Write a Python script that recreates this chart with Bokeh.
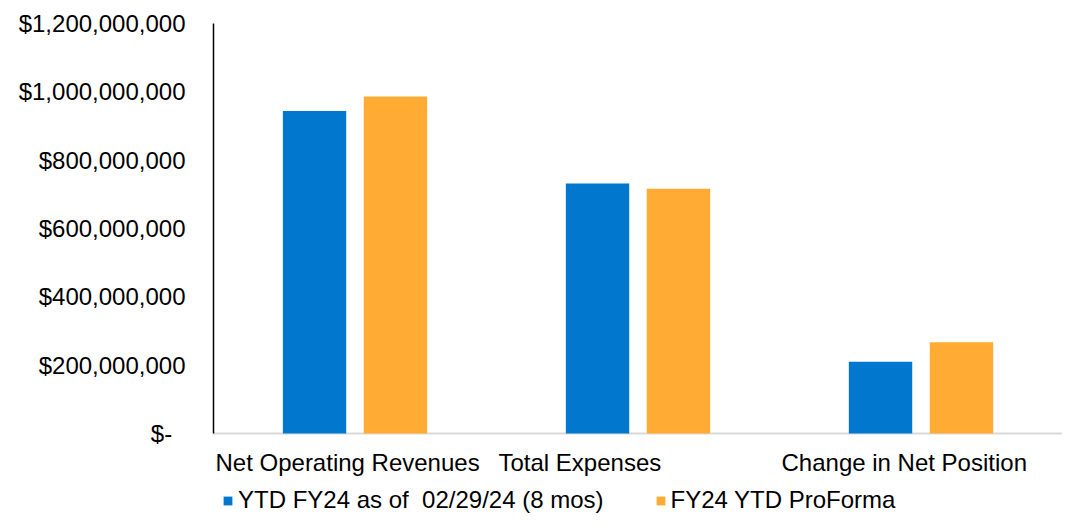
from bokeh.plotting import figure
from bokeh.models import Range1d, Legend, LegendItem, FixedTicker, ColumnDataSource, Label, Span
from bokeh.transform import dodge
from bokeh.embed import file_html
from bokeh.resources import INLINE

categories = ["Net Operating Revenues", "Total Expenses", "Change in Net Position"]
series_names = ["YTD FY24 as of  02/29/24 (8 mos)", "FY24 YTD ProForma"]
ytd_values = [944_000_000, 732_000_000, 210_000_000]
proforma_values = [986_000_000, 716_000_000, 267_000_000]
y_tick_values = [0, 200_000_000, 400_000_000, 600_000_000, 800_000_000, 1_000_000_000, 1_200_000_000]
y_tick_labels = ["$-\u00a0\u00a0", "$200,000,000", "$400,000,000", "$600,000,000",
                 "$800,000,000", "$1,000,000,000", "$1,200,000,000"]

BLUE = "#0177CE"
ORANGE = "#FFAB34"
FONT = "Liberation Sans"

W, H = 1062, 514
TOP, BASE = 23, 433          # screen rows of the top tick and of the zero line
Y_MAX = y_tick_values[-1]
y_min = -Y_MAX * (H - BASE) / (BASE - TOP)   # room below zero for labels and legend

n = len(categories)
slot = list(range(n))              # category slot index (slot i spans i .. i+1)
src = ColumnDataSource(dict(slot=slot, cat=categories, ytd=ytd_values, pro=proforma_values))

p = figure(width=W, height=H, x_range=Range1d(0, n), y_range=Range1d(y_min, Y_MAX),
           output_backend="svg", toolbar_location=None,
           min_border_left=213, min_border_right=0, min_border_top=TOP, min_border_bottom=0)

r1 = p.vbar(x=dodge("slot", 0.5 - 0.143), top="ytd", width=0.224, source=src,
            fill_color=BLUE, line_color=None)
r2 = p.vbar(x=dodge("slot", 0.5 + 0.143), top="pro", width=0.224, source=src,
            fill_color=ORANGE, line_color=None)

p.outline_line_color = None
p.xgrid.visible = False
p.ygrid.visible = False
p.xaxis.visible = False

p.add_layout(Span(location=0, dimension="width", line_color="#D9D9D9", line_width=2,
                  level="underlay"))

ya = p.yaxis[0]
ya.ticker = FixedTicker(ticks=y_tick_values)
ya.bounds = (0, Y_MAX)
ya.major_label_overrides = {v: s for v, s in zip(y_tick_values, y_tick_labels)}
ya.major_tick_in = 0
ya.major_tick_out = 0
ya.minor_tick_in = 0
ya.minor_tick_out = 0
ya.major_label_standoff = 28
ya.major_label_text_font = FONT
ya.major_label_text_font_size = "24px"
ya.major_label_text_color = "#000000"
ya.axis_line_color = "#000000"
ya.axis_line_width = 1.5

for i, c in zip(slot, categories):
    p.add_layout(Label(x=i, y=0, x_offset=2, y_offset=-29, text=c, text_font=FONT,
                       text_font_size="24px", text_color="#000000", text_baseline="middle",
                       text_align="left"))

legend = Legend(items=[LegendItem(label=series_names[0], renderers=[r1]),
                       LegendItem(label=series_names[1], renderers=[r2])],
                orientation="horizontal", location=(9, 0), padding=0, margin=0,
                spacing=51, label_standoff=5, glyph_width=11, glyph_height=11,
                label_height=24, label_text_font=FONT, label_text_font_size="24px",
                label_text_color="#000000", border_line_color=None,
                background_fill_alpha=0)
p.add_layout(legend, "center")

open("out.html", "w").write(file_html(p, INLINE))
